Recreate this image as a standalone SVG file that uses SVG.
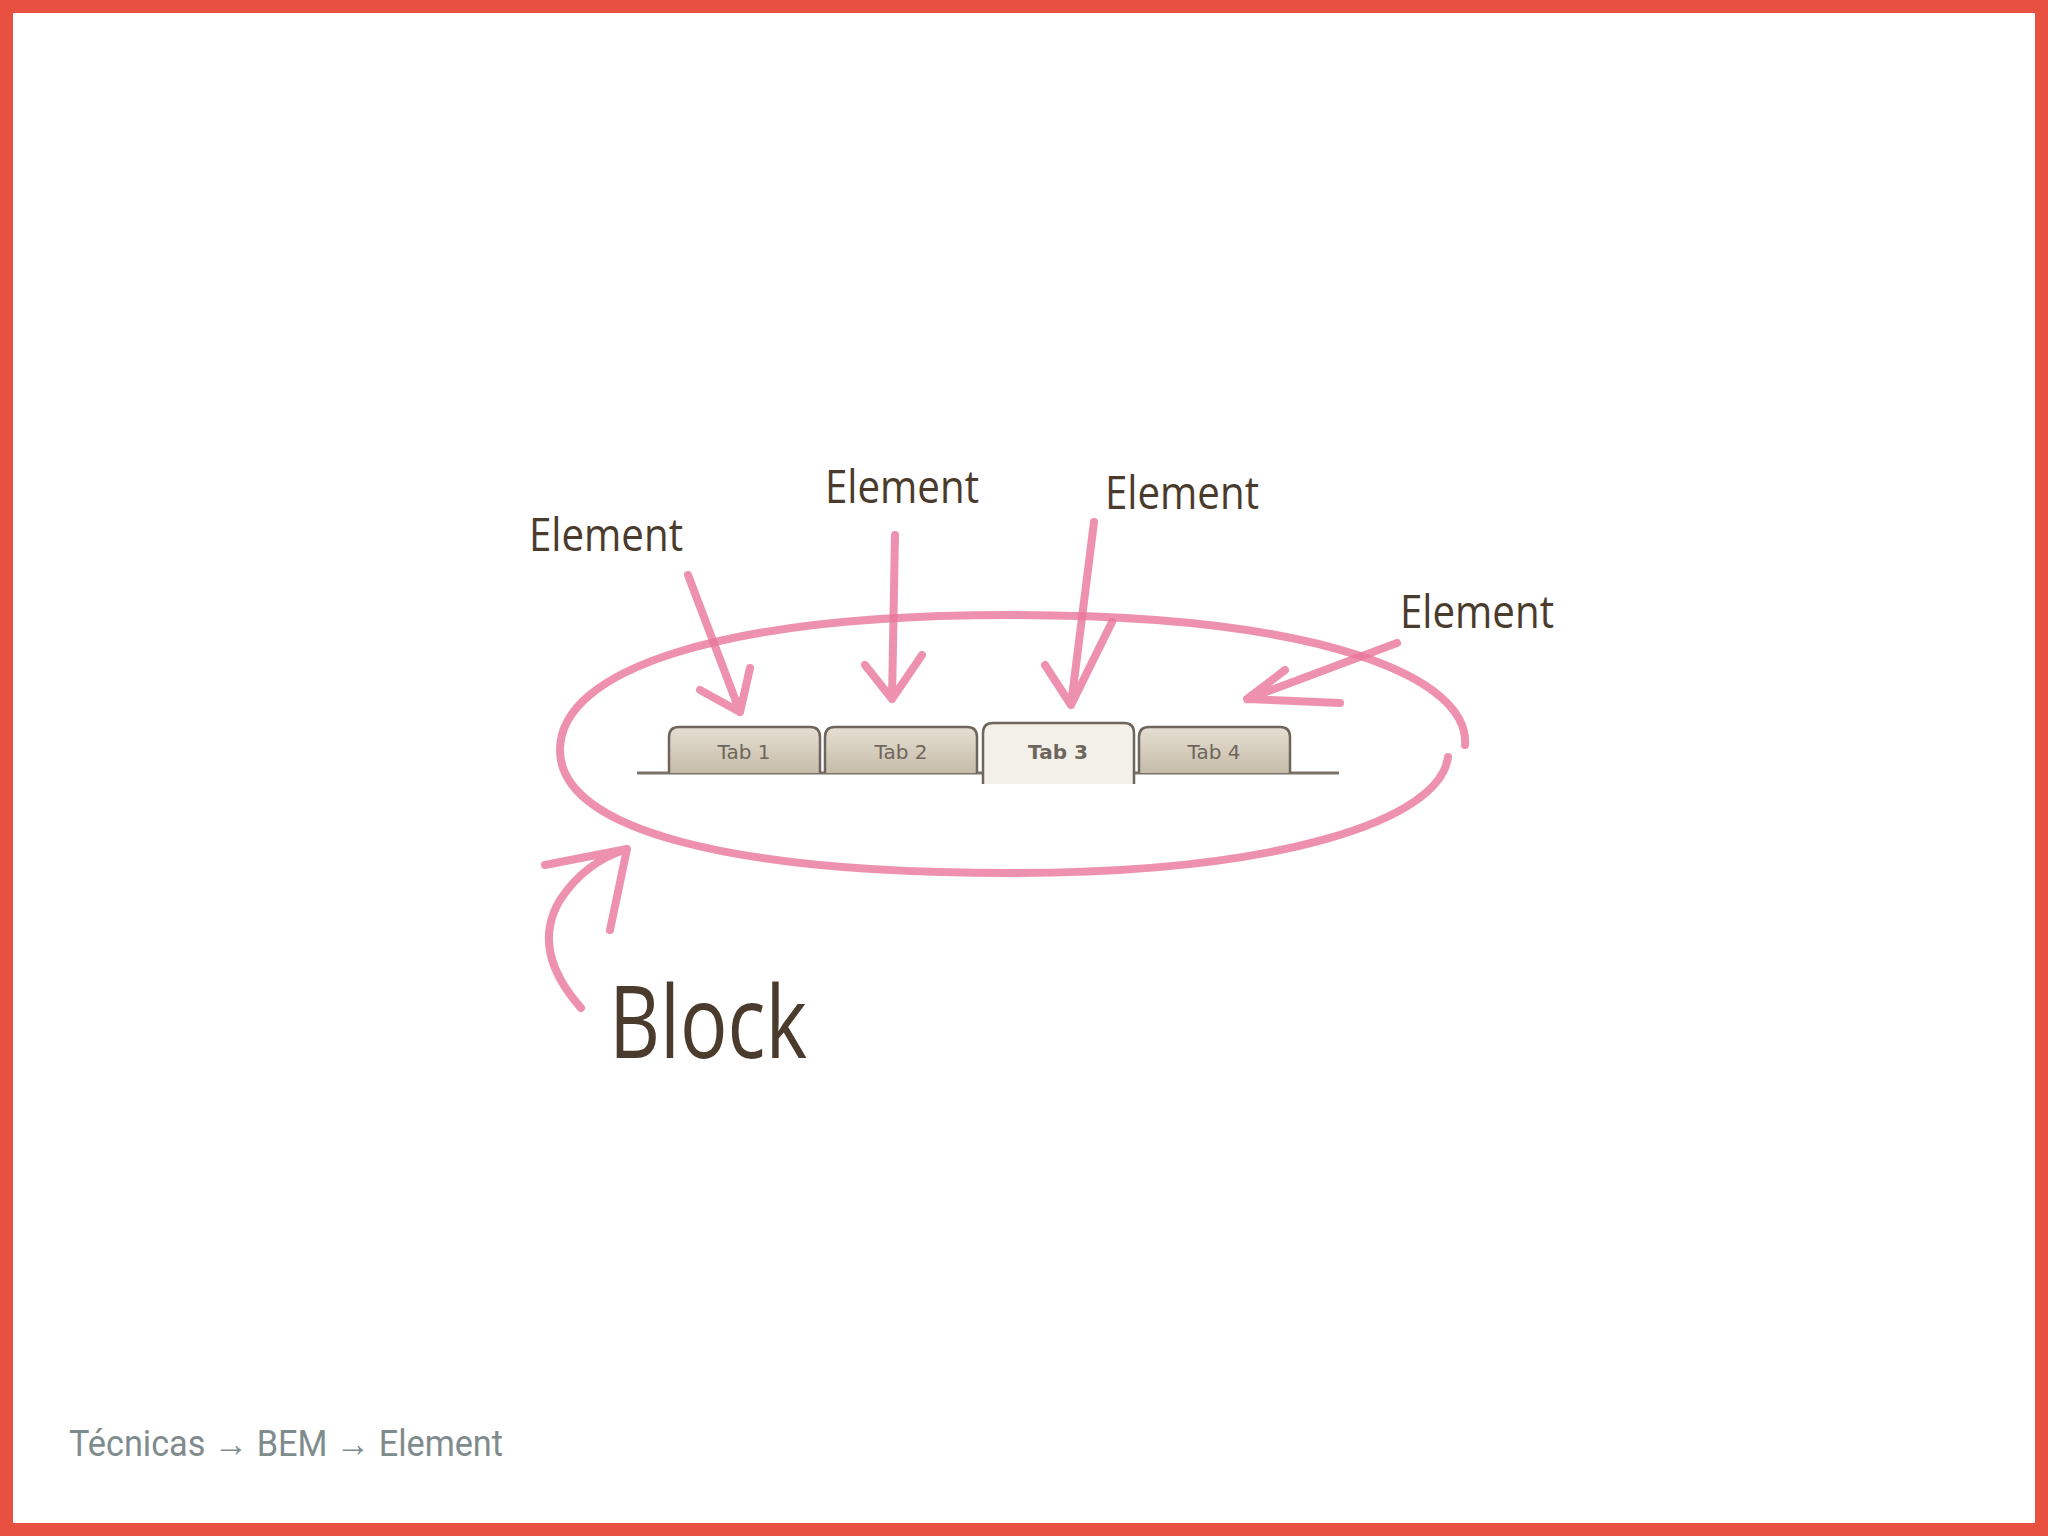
<svg xmlns="http://www.w3.org/2000/svg" width="2048" height="1536" viewBox="0 0 2048 1536">
<style>
.lbl{font-family:"Open Sans",sans-serif;font-size:46px;fill:#4a3b2c}
.big{font-size:100px}
.ink{fill:none;stroke:#e8769a;stroke-opacity:.8;stroke-width:8;stroke-linecap:round;stroke-linejoin:round}
.tab{stroke:#6e665c;stroke-width:2.5}
.tt{font-family:"DejaVu Sans",sans-serif;font-size:20px;fill:#6e665c;text-anchor:middle}
</style>
<defs><linearGradient id="g" x1="0" y1="0" x2="0" y2="1"><stop offset="0" stop-color="#e6dfd2"/><stop offset="1" stop-color="#c6bca9"/></linearGradient></defs>
<rect x="6.5" y="6.5" width="2035" height="1523" fill="#fff" stroke="#e85142" stroke-width="13"/>
<g id="block">
<path class="ink" d="M1465 745 C1470 680 1330 615 1010 615 C720 615 560 670 560 750 C560 830 730 873 1010 873 C1280 873 1440 820 1448 757" stroke-width="9"/>
<text class="lbl big" x="609" y="1058" textLength="198" lengthAdjust="spacingAndGlyphs">Block</text>
</g>
<g id="tabs">
<line x1="637" y1="773" x2="1339" y2="773" stroke="#7a7268" stroke-width="3"/>
<path class="tab" style="fill:url(#g)" d="M669 773 V737 Q669 727 679 727 H810 Q820 727 820 737 V773"/>
<path class="tab" style="fill:url(#g)" d="M825 773 V737 Q825 727 835 727 H967 Q977 727 977 737 V773"/>
<path class="tab" style="fill:#f3f0ea" d="M983 784 V733 Q983 723 993 723 H1124 Q1134 723 1134 733 V784"/>
<path class="tab" style="fill:url(#g)" d="M1139 773 V737 Q1139 727 1149 727 H1280 Q1290 727 1290 737 V773"/>
<text class="tt" x="744" y="759">Tab 1</text>
<text class="tt" x="901" y="759">Tab 2</text>
<text class="tt" x="1058" y="759" font-weight="bold" fill="#4a4238">Tab 3</text>
<text class="tt" x="1214" y="759">Tab 4</text>
</g>
<g id="labels">
<text class="lbl" x="529" y="551" textLength="154" lengthAdjust="spacingAndGlyphs">Element</text>
<text class="lbl" x="825" y="503" textLength="154" lengthAdjust="spacingAndGlyphs">Element</text>
<text class="lbl" x="1105" y="509" textLength="154" lengthAdjust="spacingAndGlyphs">Element</text>
<text class="lbl" x="1400" y="628" textLength="154" lengthAdjust="spacingAndGlyphs">Element</text>
</g>
<g id="connectors">
<path class="ink" d="M688 575 L740 712 M700 690 L740 712 L750 668"/>
<path class="ink" d="M895 535 L892 699 M865 665 L892 699 L922 655"/>
<path class="ink" d="M1094 522 L1071 705 M1045 665 L1071 705 L1112 622"/>
<path class="ink" d="M1397 643 L1247 699 M1285 670 L1247 699 L1340 703"/>
<path class="ink" d="M581 1008 Q530 950 560 900 Q585 862 627 849 M545 865 L627 849 L610 930"/>
</g>
<text x="69" y="1456" font-family="Roboto,sans-serif" font-size="36" fill="#7f8c8d" textLength="434" lengthAdjust="spacingAndGlyphs">Técnicas → BEM → Element</text>
</svg>
